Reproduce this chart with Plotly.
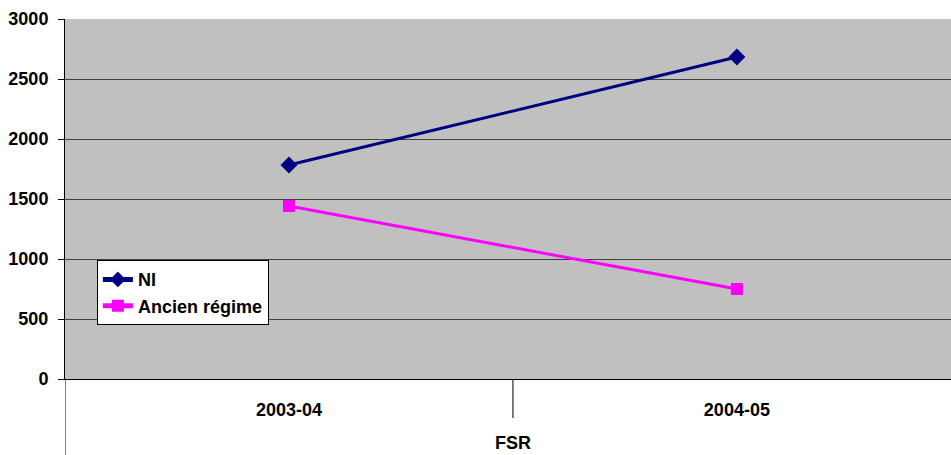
import plotly.graph_objects as go

categories = ["2003-04", "2004-05"]
group_label = "FSR"
ni_values = [1783, 2683]
ancien_values = [1442, 750]
y_ticks = [0, 500, 1000, 1500, 2000, 2500, 3000]

font_family = "Liberation Sans, Arial, sans-serif"

fig = go.Figure()
fig.add_trace(go.Scatter(
    x=categories, y=ni_values, name="<b>NI</b>", mode="lines+markers",
    line=dict(color="#000080", width=3),
    marker=dict(symbol="diamond", size=13, color="#000080"),
))
fig.add_trace(go.Scatter(
    x=categories, y=ancien_values, name="<b>Ancien régime</b>", mode="lines+markers",
    line=dict(color="#FF00FF", width=3),
    marker=dict(symbol="square", size=12, color="#FF00FF"),
))

W, H = 951, 455
ml, mr, mt, mb = 65, 0, 19, 76
ph = H - mt - mb

fig.update_layout(
    width=W, height=H,
    margin=dict(l=ml, r=mr, t=mt, b=mb, autoexpand=False),
    paper_bgcolor="white",
    plot_bgcolor="#C0C0C0",
    font=dict(family=font_family, size=18, color="black"),
    showlegend=True,
    legend=dict(
        x=0.036, y=0.33, xanchor="left", yanchor="top",
        bgcolor="white", bordercolor="black", borderwidth=1,
        font=dict(size=18, color="black"),
        tracegroupgap=0, itemsizing="constant",
    ),
    xaxis=dict(
        type="category", range=[-0.5, 1.478], automargin=False,
        showgrid=False, showline=True, linecolor="black", linewidth=1,
        ticks="outside", ticklen=14, tickcolor="rgba(0,0,0,0)",
        tickfont=dict(size=18), tickprefix="<b>", ticksuffix="</b>",
        zeroline=False,
    ),
    yaxis=dict(
        range=[0, 3000], tickvals=y_ticks, automargin=False,
        ticktext=[f"<b>{v}</b>" for v in y_ticks],
        showgrid=True, gridcolor="#404040", gridwidth=1,
        showline=True, linecolor="black", linewidth=1,
        ticks="outside", ticklen=6, tickcolor="black",
        ticklabelstandoff=6,
        tickfont=dict(size=18), zeroline=False,
    ),
)

# category-group axis decorations
fig.add_shape(type="line", xref="x", yref="paper", x0=-0.5, x1=-0.5,
              y0=0, y1=-mb / ph, line=dict(color="black", width=1))
fig.add_shape(type="line", xref="x", yref="paper", x0=0.5, x1=0.5,
              y0=0, y1=-39 / ph, line=dict(color="black", width=1))
fig.add_annotation(x=0.5, xref="x", y=-64 / ph, yref="paper",
                   text=f"<b>{group_label}</b>", showarrow=False,
                   yanchor="middle", font=dict(size=18))

fig.write_html(
    "out.html",
    config={"displayModeBar": False},
    post_script="document.body.style.margin='0';document.body.style.overflow='hidden';",
)
